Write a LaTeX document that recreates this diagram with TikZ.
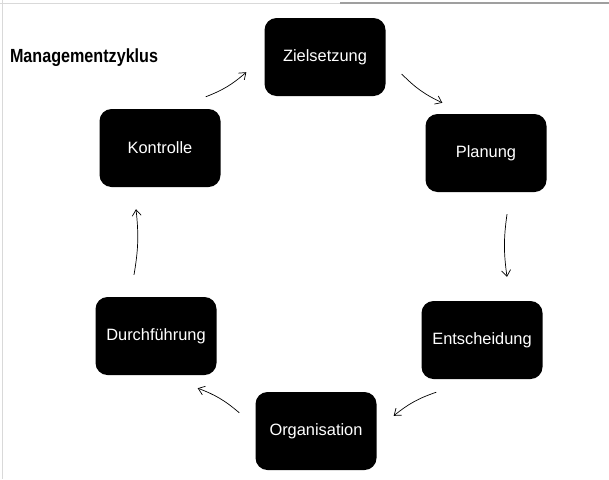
\documentclass[tikz,border=0pt]{standalone}
\usepackage{fontspec}
\setmainfont{Liberation Sans}
\usetikzlibrary{arrows.meta, calc, positioning}

\begin{document}
\begin{tikzpicture}[x=1pt, y=-1pt,
  schritt/.style={fill=black, rounded corners=12pt, minimum width=121pt,
    minimum height=78pt, inner sep=0pt, text=white,
    font=\fontsize{16.4}{18}\selectfont},
  pfeil/.style={-{Straight Barb[length=6pt,width=9pt]}, line width=0.7pt}]
% Managementzyklus: sechs Phasen im Kreis
\useasboundingbox (0,0) rectangle (609,479);
\draw[gray!30, line width=1pt] (2,0) -- (2,479);
\draw[gray!30, line width=1pt] (0,3) -- (609,3);
\draw[gray!75, line width=1.2pt] (340,3) -- (609,3);

\node[anchor=base west, xscale=0.85, font=\bfseries\fontsize{19}{21}\selectfont] (titel) at (7,62) {Managementzyklus};

\node[schritt] (ziel) at (325,57) {Zielsetzung};
\node[schritt] (plan) at (486,153) {Planung};
\node[schritt] (ent) at (482,340) {Entscheidung};
\node[schritt] (org) at (316,431) {Organisation};
\node[schritt] (durch) at (156,336) {Durchführung};
\node[schritt] (kon) at (160,148) {Kontrolle};

\draw[pfeil] ($(kon.north east)+(-15,-12)$) to[bend right=10] ($(ziel.south west)+(-18,-24)$);
\draw[pfeil] ($(ziel.east)+(16,17)$) to[bend right=10] ($(plan.north west)+(17,-11)$);
\draw[pfeil] ($(plan.south)+(21,22)$) to[bend right=8] ($(ent.north)+(25,-24)$);
\draw[pfeil] ($(ent.south west)+(15,13)$) to[bend right=10] ($(org.north east)+(17,24)$);
\draw[pfeil] ($(org.north west)+(-16,21)$) to[bend right=10] ($(durch.south east)+(-19,13)$);
\draw[pfeil] ($(durch.north)+(-22,-22)$) to[bend right=8] ($(kon.south)+(-24,22)$);
\end{tikzpicture}
\end{document}
